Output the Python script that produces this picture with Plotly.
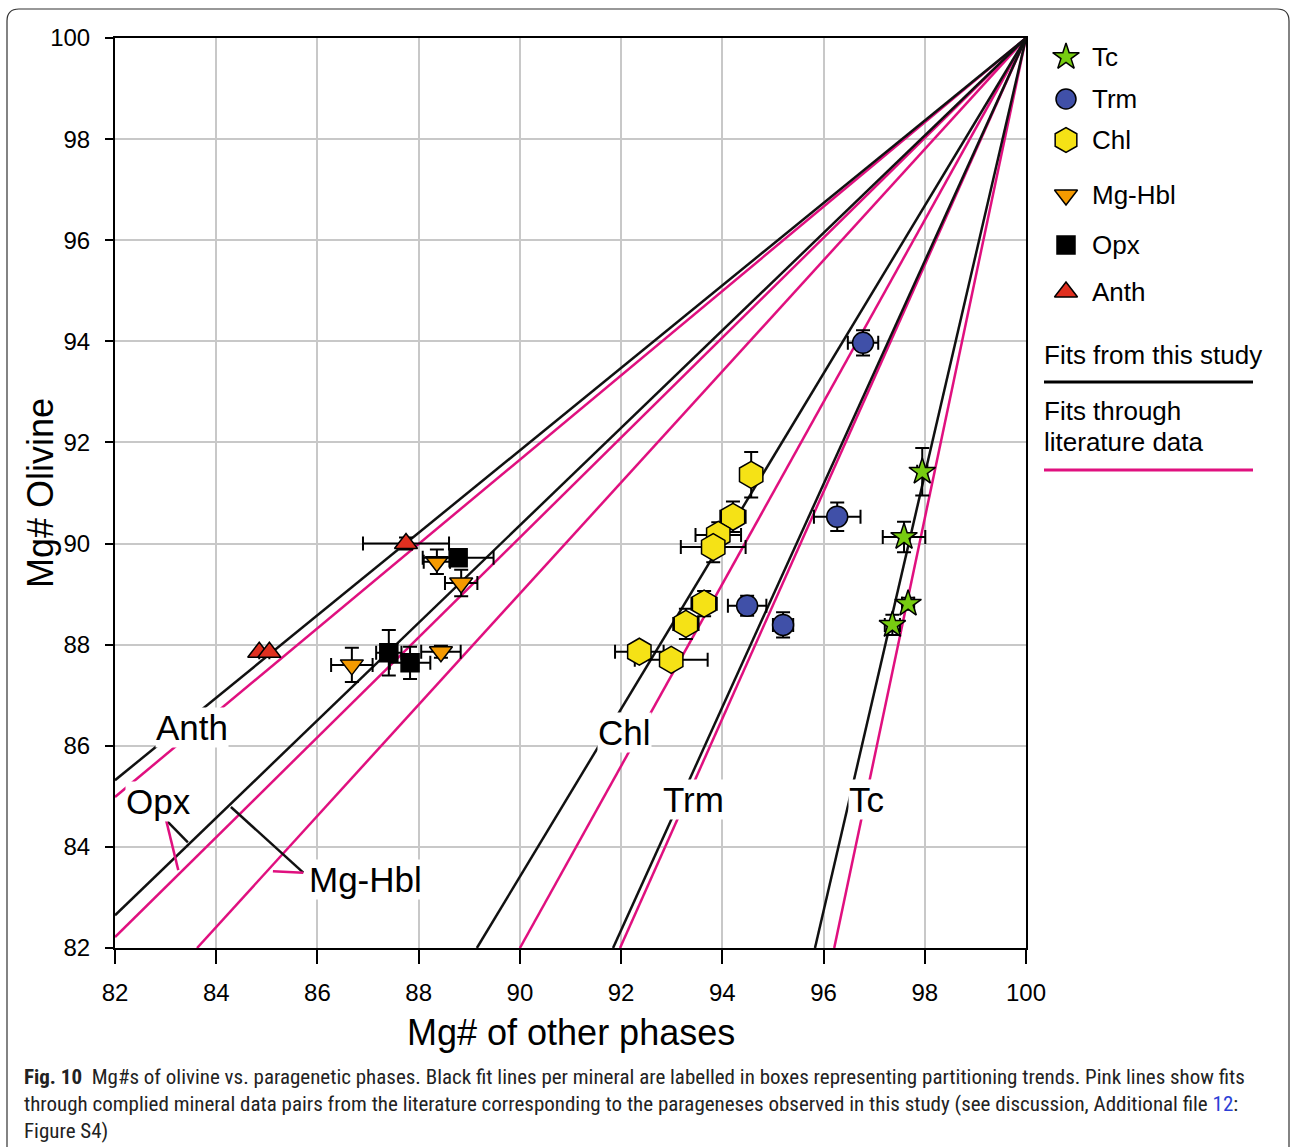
import plotly.graph_objects as go

# ---------------- data ----------------
tc_x = [97.95, 97.59, 97.67, 97.36]
tc_y = [91.42, 90.13, 88.81, 88.39]
tc_ex = [0.10, 0.42, 0.12, 0.15]
tc_ey = [0.47, 0.30, 0.12, 0.20]

trm_x = [96.78, 96.27, 94.49, 95.20]
trm_y = [93.97, 90.53, 88.77, 88.39]
trm_ex = [0.30, 0.46, 0.38, 0.20]
trm_ey = [0.25, 0.28, 0.20, 0.25]

chl_x = [94.57, 94.21, 93.92, 93.82, 93.64, 93.28, 92.36, 92.99]
chl_y = [91.36, 90.53, 90.17, 89.93, 88.81, 88.41, 87.86, 87.70]
chl_ex = [0.10, 0.25, 0.45, 0.64, 0.25, 0.25, 0.48, 0.72]
chl_ey = [0.45, 0.30, 0.25, 0.30, 0.25, 0.30, 0.15, 0.15]

hbl_x = [88.36, 88.84, 86.68, 88.44]
hbl_y = [89.64, 89.22, 87.60, 87.86]
hbl_ex = [0.26, 0.32, 0.41, 0.39]
hbl_ey = [0.24, 0.26, 0.34, 0.12]

opx_x = [88.78, 87.41, 87.83]
opx_y = [89.72, 87.84, 87.64]
opx_ex = [0.70, 0.25, 0.40]
opx_ey = [0.10, 0.45, 0.32]

anth_x = [84.85, 85.05, 87.75]
anth_y = [87.85, 87.85, 90.00]
anth_ex = [0.0, 0.0, 0.85]
anth_ey = [0.0, 0.0, 0.12]

# fit lines through (100,100): slopes
fit_names = ["Anth", "Opx / Mg-Hbl", "Chl", "Trm", "Tc"]
fit_black_slopes = [0.8156, 0.964, 1.659, 2.206, 4.317]
lit_names = ["Anth", "Opx", "Mg-Hbl", "Chl", "Trm", "Tc"]
lit_pink_slopes = [0.834, 0.988, 1.099, 1.80, 2.244, 4.75]

ticks = [82, 84, 86, 88, 90, 92, 94, 96, 98, 100]

# legend entries
leg_names = ["Tc", "Trm", "Chl", "Mg-Hbl", "Opx", "Anth"]

BLACK = "#111111"
PINK = "#e0107f"
FONT = "Liberation Sans, Arial, sans-serif"

# ---------------- geometry ----------------
W, H = 1290, 1147
ML, MR, MT, MB = 115, 10, 38, 199
PW = W - ML - MR
PH = H - MT - MB
main_right = (1026 - ML) / PW


def px(x):
    return (x - ML) / PW


def py(y):
    return (H - MB - y) / PH


fig = go.Figure()


def fit_line(k, color, name):
    x0 = max(82.0, 100 - 18.0 / k)
    xs = [x0, 100.0]
    ys = [100 + k * (x - 100) for x in xs]
    fig.add_trace(go.Scatter(x=xs, y=ys, mode="lines", name=name,
                             line=dict(color=color, width=2.5),
                             showlegend=False, hoverinfo="skip"))


for k, n in zip(lit_pink_slopes, lit_names):
    fit_line(k, PINK, n + " (literature)")
for k, n in zip(fit_black_slopes, fit_names):
    fit_line(k, BLACK, n + " (this study)")


def pts(x, y, ex, ey, symbol, color, size, name):
    fig.add_trace(go.Scatter(
        x=x, y=y, mode="markers", name=name, showlegend=False,
        error_x=dict(type="data", array=ex, color="black", thickness=2, width=7),
        error_y=dict(type="data", array=ey, color="black", thickness=2, width=7),
        marker=dict(symbol=symbol, color=color, size=size, opacity=1,
                    line=dict(color="black", width=1.5))))


pts(anth_x, anth_y, anth_ex, anth_ey, "triangle-up", "#e03020", 20, "Anth")
pts(hbl_x, hbl_y, hbl_ex, hbl_ey, "triangle-down", "#f59a00", 20, "Mg-Hbl")
pts(opx_x, opx_y, opx_ex, opx_ey, "square", "#000000", 18, "Opx")
pts(chl_x, chl_y, chl_ex, chl_ey, "hexagon", "#f5e216", 27, "Chl")
pts(trm_x, trm_y, trm_ex, trm_ey, "circle", "#4050a8", 21, "Trm")
pts(tc_x, tc_y, tc_ex, tc_ey, "star", "#77cc11", 20, "Tc")

# ---------------- legend (overlay axis in pixel units) ----------------
leg_sym = ["star", "circle", "hexagon", "triangle-down", "square", "triangle-up"]
leg_col = ["#77cc11", "#4050a8", "#f5e216", "#f59a00", "#000000", "#e03020"]
leg_size = [20, 20, 25, 20, 18, 20]
leg_ypx = [57, 99, 140, 195, 245, 292]
fig.add_trace(go.Scatter(
    x=[1066] * len(leg_names), y=leg_ypx, mode="markers", xaxis="x2", yaxis="y2",
    showlegend=False, hoverinfo="skip",
    marker=dict(symbol=leg_sym, color=leg_col, size=leg_size, opacity=1,
                line=dict(color="black", width=1.5))))

annotations = []
for n, yy in zip(leg_names, leg_ypx):
    annotations.append(dict(x=1090, y=yy, xref="x2", yref="y2", text=n, showarrow=False,
                            xanchor="left", yanchor="middle",
                            font=dict(size=26, color="black", family=FONT)))
annotations.append(dict(x=1042, y=355, xref="x2", yref="y2", text="Fits from this study",
                        showarrow=False, xanchor="left", yanchor="middle",
                        font=dict(size=26, color="black", family=FONT)))
annotations.append(dict(x=1042, y=411, xref="x2", yref="y2", text="Fits through",
                        showarrow=False, xanchor="left", yanchor="middle",
                        font=dict(size=26, color="black", family=FONT)))
annotations.append(dict(x=1042, y=442, xref="x2", yref="y2", text="literature data",
                        showarrow=False, xanchor="left", yanchor="middle",
                        font=dict(size=26, color="black", family=FONT)))

shapes = [
    dict(type="line", xref="x2", yref="y2", x0=1044, x1=1253, y0=382, y1=382,
         line=dict(color="black", width=3)),
    dict(type="line", xref="x2", yref="y2", x0=1044, x1=1253, y0=470, y1=470,
         line=dict(color=PINK, width=3)),
]

# ---------------- fit labels ----------------
labels = [("Anth", 83.52, 86.37), ("Opx", 82.85, 84.89), ("Mg-Hbl", 86.94, 83.35),
          ("Chl", 92.06, 86.27), ("Trm", 93.44, 84.93), ("Tc", 96.84, 84.93)]
for t, x, y in labels:
    annotations.append(dict(x=x, y=y, xref="x", yref="y", text=t, showarrow=False,
                            xanchor="center", yanchor="middle", bgcolor="white",
                            borderpad=0,
                            font=dict(size=35, color="black", family=FONT)))

# leader lines
leaders = [
    (83.01, 84.53, 83.44, 84.09, BLACK),
    (83.01, 84.53, 83.25, 83.54, PINK),
    (84.29, 84.79, 85.72, 83.49, BLACK),
    (85.12, 83.52, 85.72, 83.49, PINK),
]
for x0, y0, x1, y1, c in leaders:
    shapes.append(dict(type="line", xref="x", yref="y", x0=x0, y0=y0, x1=x1, y1=y1,
                       line=dict(color=c, width=2.5)))

# axis titles
annotations.append(dict(x=main_right / 2, y=py(1032), xref="paper", yref="paper",
                        text="Mg# of other phases", showarrow=False,
                        xanchor="center", yanchor="middle",
                        font=dict(size=36, color="black", family=FONT)))
annotations.append(dict(x=px(40), y=py(493), xref="paper", yref="paper",
                        text="Mg# Olivine", showarrow=False, textangle=-90,
                        xanchor="center", yanchor="middle",
                        font=dict(size=36, color="black", family=FONT)))

# caption
CAP = "Roboto Condensed, Liberation Sans Narrow, DejaVu Sans Condensed, Roboto, sans-serif"
cap_lines = [
    "<b>Fig. 10</b>  Mg#s of olivine vs. paragenetic phases. Black fit lines per mineral are labelled in boxes representing partitioning trends. Pink lines show fits",
    "through complied mineral data pairs from the literature corresponding to the parageneses observed in this study (see discussion, Additional file <span style='color:#2b3fd6'>12</span>:",
    "Figure S4)",
]
for i, line in enumerate(cap_lines):
    annotations.append(dict(x=px(22), y=py(1077 + 27 * i), xref="paper", yref="paper",
                            text=line, showarrow=False, xanchor="left", yanchor="middle",
                            font=dict(size=21, color="#222222", family=CAP)))

# border
xl, xr = px(7), px(1289)
yt, yb = py(9), py(1200)
rx, ry = 12 / PW, 12 / PH
path = (f"M {xl},{yb} L {xl},{yt - ry} Q {xl},{yt} {xl + rx},{yt} "
        f"L {xr - rx},{yt} Q {xr},{yt} {xr},{yt - ry} L {xr},{yb}")
shapes.append(dict(type="path", xref="paper", yref="paper", path=path,
                   line=dict(color="#333333", width=1.2)))

fig.update_layout(
    width=W, height=H, autosize=False,
    margin=dict(l=ML, r=MR, t=MT, b=MB, autoexpand=False),
    paper_bgcolor="white", plot_bgcolor="white",
    showlegend=False,
    font=dict(family=FONT, color="black"),
    annotations=annotations, shapes=shapes,
    xaxis=dict(domain=[0, main_right], range=[82, 100], tickvals=ticks,
               ticktext=[str(t) for t in ticks], automargin=False,
               showgrid=True, gridcolor="#c8c8c8", gridwidth=2,
               showline=True, linecolor="black", linewidth=2, mirror=True,
               ticks="outside", ticklen=14, tickwidth=2, tickcolor="black",
               ticklabelstandoff=8,
               tickfont=dict(size=24, color="black", family=FONT), zeroline=False),
    yaxis=dict(domain=[0, 1], range=[82, 100], tickvals=ticks,
               ticktext=[str(t) for t in ticks], automargin=False,
               showgrid=True, gridcolor="#c8c8c8", gridwidth=2,
               showline=True, linecolor="black", linewidth=2, mirror=True,
               ticks="outside", ticklen=8, tickwidth=2, tickcolor="black",
               ticklabelstandoff=10,
               tickfont=dict(size=24, color="black", family=FONT), zeroline=False),
    xaxis2=dict(domain=[px(1030), 1.0], range=[1030, ML + PW], visible=False,
                anchor="y2", fixedrange=True, automargin=False),
    yaxis2=dict(domain=[0, 1], range=[H - MB, MT], visible=False,
                anchor="x2", fixedrange=True, automargin=False),
)

fig.write_html("out.html", config={"responsive": False})
